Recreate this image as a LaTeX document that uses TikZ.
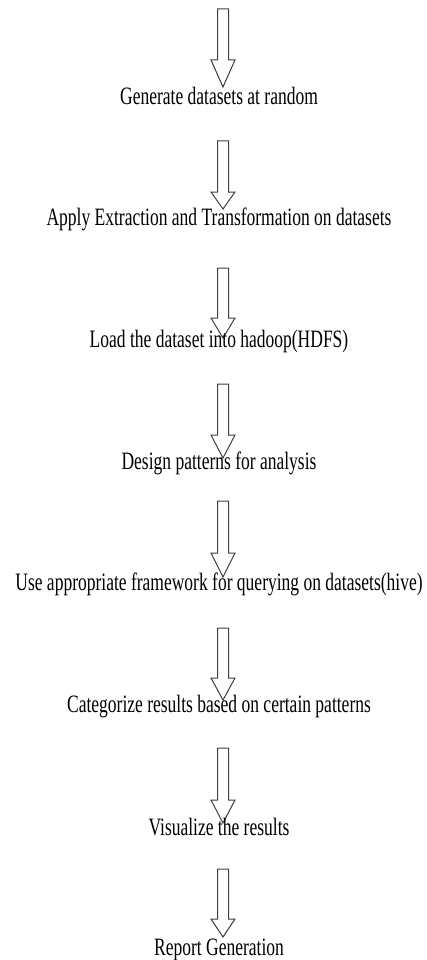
\documentclass[tikz,border=0pt]{standalone}
\usepackage{fontspec}
\newfontfamily\tnr[FakeStretch=0.70]{Liberation Serif}
\tikzset{
  lbl/.style={anchor=base, inner sep=0pt, font=\tnr\fontsize{25}{30}\selectfont, text=black},
  barrow/.style={draw=black!75, line width=1pt, fill=white, line join=miter}
}
\newcommand{\blockarrow}[3]{% top, head base, tip (y in px, downwards)
  \draw[barrow] (223-5.5,#1) -- (223+5.5,#1) -- (223+5.5,#2) -- (223+12,#2) -- (223,#3)
     -- (223-12,#2) -- (223-5.5,#2) -- cycle;}
\begin{document}
\begin{tikzpicture}[x=1pt,y=-1pt]
\useasboundingbox (0,0) rectangle (427,960);
\blockarrow{9}{60}{87}
\blockarrow{141}{192}{209}
\blockarrow{268}{318}{338}
\blockarrow{384}{435}{458}
\blockarrow{501}{553}{577}
\blockarrow{628}{678}{700}
\blockarrow{748}{800}{823}
\blockarrow{869}{919}{937}
\node[lbl] (t1) at (219,105) {Generate datasets at random};
\node[lbl] (t2) at (219,225) {Apply Extraction and Transformation on datasets};
\node[lbl] (t3) at (219,347) {Load the dataset into hadoop(HDFS)};
\node[lbl] (t4) at (219,469) {Design patterns for analysis};
\node[lbl] (t5) at (219,590) {Use appropriate framework for querying on datasets(hive)};
\node[lbl] (t6) at (219,712) {Categorize results based on certain patterns};
\node[lbl] (t7) at (219,835) {Visualize the results};
\node[lbl] (t8) at (219,955) {Report Generation};
\end{tikzpicture}
\end{document}
